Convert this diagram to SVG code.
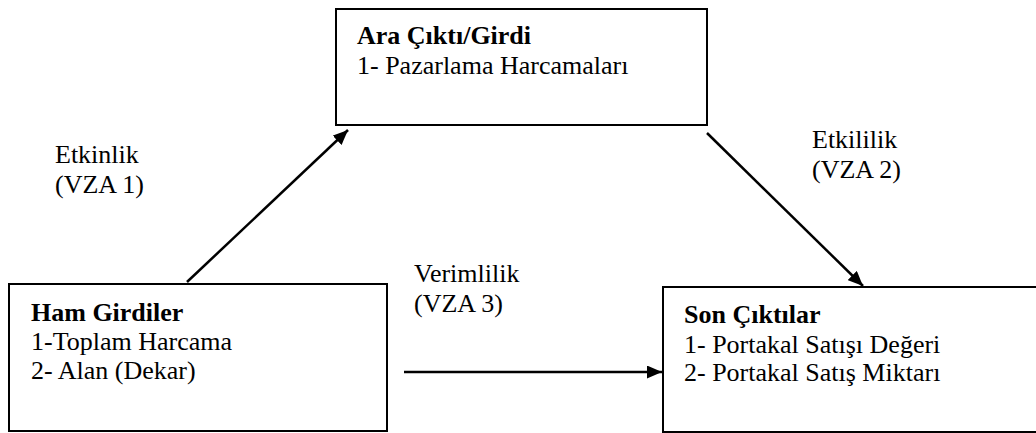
<svg xmlns="http://www.w3.org/2000/svg" width="1036" height="433" viewBox="0 0 1036 433">
<defs>
<style>
.box{fill:#fff;stroke:#000;stroke-width:2}
.t{font-family:'Liberation Serif', serif;font-size:26px;fill:#000}
.b{font-weight:bold}
.c{stroke:#000;stroke-width:2.5;fill:none}
</style>
<marker id="ah" viewBox="0 0 10 10" refX="10" refY="5" markerWidth="15" markerHeight="13" markerUnits="userSpaceOnUse" orient="auto" preserveAspectRatio="none">
<path d="M0,0 L10,5 L0,10 z" fill="#000"/>
</marker>
</defs>
<rect width="1036" height="433" fill="#fff"/>
<g id="connectors">
<line class="c" x1="187" y1="282" x2="348" y2="130" marker-end="url(#ah)"/>
<line class="c" x1="707" y1="133" x2="863" y2="286" marker-end="url(#ah)"/>
<line class="c" x1="404" y1="372" x2="662" y2="372" marker-end="url(#ah)"/>
</g>
<g id="node-ara">
<rect class="box" x="336" y="9" width="371" height="116"/>
<text class="t b" x="357" y="44">Ara Çıktı/Girdi</text>
<text class="t" x="357" y="74">1- Pazarlama Harcamaları</text>
</g>
<g id="node-ham">
<rect class="box" x="9" y="284" width="378" height="147"/>
<text class="t b" x="31" y="321">Ham Girdiler</text>
<text class="t" x="31" y="350">1-Toplam Harcama</text>
<text class="t" x="31" y="379">2- Alan (Dekar)</text>
</g>
<g id="node-son">
<rect class="box" x="663" y="287" width="380" height="145"/>
<text class="t b" x="684" y="323">Son Çıktılar</text>
<text class="t" x="684" y="353">1- Portakal Satışı Değeri</text>
<text class="t" x="684" y="381">2- Portakal Satış Miktarı</text>
</g>
<g id="labels">
<text class="t" x="55" y="163">Etkinlik</text>
<text class="t" x="55" y="193">(VZA 1)</text>
<text class="t" x="812" y="148">Etkililik</text>
<text class="t" x="812" y="178">(VZA 2)</text>
<text class="t" x="414" y="282">Verimlilik</text>
<text class="t" x="414" y="312">(VZA 3)</text>
</g>
</svg>
